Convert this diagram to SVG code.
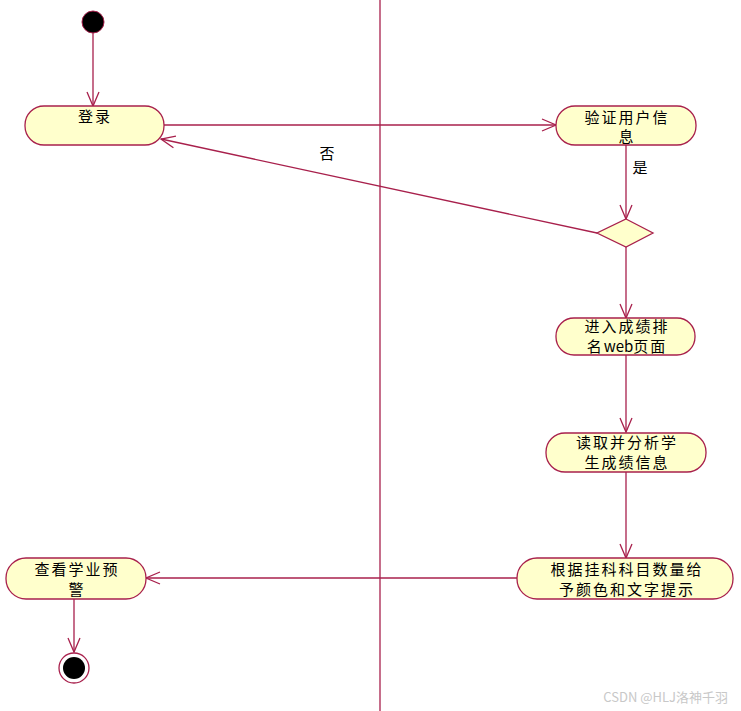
<svg xmlns="http://www.w3.org/2000/svg" width="741" height="711" viewBox="0 0 741 711">
<defs>
<style>
.n{fill:#ffffcc;stroke:#a8204c;stroke-width:1.3}
.c{fill:none;stroke:#a8204c;stroke-width:1.3}
.t{font-family:"Noto Sans CJK SC","Liberation Sans",sans-serif;font-size:15px;fill:#000;text-anchor:middle;letter-spacing:2px}
.w{letter-spacing:0}
</style>
<marker id="a" markerUnits="userSpaceOnUse" markerWidth="20" markerHeight="20" viewBox="-16 -10 20 20" refX="0" refY="0" orient="auto">
<path d="M-14,-6 L0,0 L-14,6" fill="none" stroke="#a8204c" stroke-width="1.3"/>
</marker>
</defs>
<rect width="741" height="711" fill="#fff"/>
<line x1="380" y1="0" x2="380" y2="711" stroke="#a8204c" stroke-width="1.3"/>
<g id="connectors">
<line class="c" x1="93" y1="33" x2="93" y2="106" marker-end="url(#a)"/>
<line class="c" x1="164" y1="125" x2="556" y2="125" marker-end="url(#a)"/>
<line class="c" x1="626" y1="145" x2="626" y2="219" marker-end="url(#a)"/>
<text class="t" x="641" y="173">是</text>
<line class="c" x1="597" y1="233" x2="161" y2="139" marker-end="url(#a)"/>
<text class="t" x="328" y="159">否</text>
<line class="c" x1="626" y1="247" x2="626" y2="318" marker-end="url(#a)"/>
<line class="c" x1="626" y1="355" x2="626" y2="432" marker-end="url(#a)"/>
<line class="c" x1="626" y1="472" x2="626" y2="558" marker-end="url(#a)"/>
<line class="c" x1="517" y1="578" x2="146" y2="578" marker-end="url(#a)"/>
<line class="c" x1="74" y1="599" x2="74" y2="652" marker-end="url(#a)"/>
</g>
<g id="start"><circle cx="93" cy="22" r="11" fill="#000" stroke="#a8204c" stroke-width="1"/></g>
<g id="login"><rect class="n" x="25" y="106" width="139" height="39" rx="19" ry="19"/><text class="t" x="95" y="122">登录</text></g>
<g id="verify"><rect class="n" x="556" y="106" width="140" height="39" rx="19" ry="19"/><text class="t" x="627" y="123">验证用户信</text><text class="t" x="627" y="142">息</text></g>
<g id="decision"><polygon class="n" points="626,219 653,233 626,247 597,233"/></g>
<g id="enter"><rect class="n" x="556" y="318" width="139" height="37" rx="18" ry="18"/><text class="t" x="627" y="332">进入成绩排</text><text class="t" x="627" y="352">名<tspan class="w">web</tspan>页面</text></g>
<g id="read"><rect class="n" x="546" y="433" width="160" height="39" rx="19" ry="19"/><text class="t" x="627" y="448">读取并分析学</text><text class="t" x="627" y="468">生成绩信息</text></g>
<g id="color"><rect class="n" x="517" y="558" width="216" height="41" rx="20" ry="20"/><text class="t" x="627" y="575">根据挂科科目数量给</text><text class="t" x="627" y="595">予颜色和文字提示</text></g>
<g id="warn"><rect class="n" x="6" y="558" width="140" height="41" rx="20" ry="20"/><text class="t" x="77" y="575">查看学业预</text><text class="t" x="77" y="595">警</text></g>
<g id="end"><circle cx="74" cy="668" r="15" fill="#fff" stroke="#a8204c" stroke-width="1.3"/><circle cx="74" cy="668" r="11" fill="#000"/></g>
<text x="728" y="702" font-family="'Noto Sans CJK SC','Liberation Sans',sans-serif" font-size="13" fill="#c8c8c8" text-anchor="end">CSDN @HLJ洛神千羽</text>
</svg>
